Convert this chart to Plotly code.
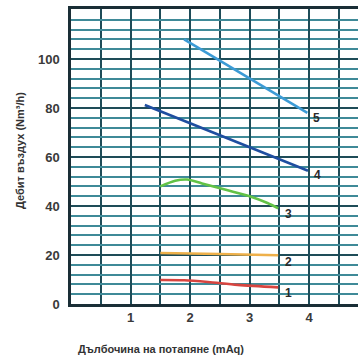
import plotly.graph_objects as go

# Data
series_names = ["1", "2", "3", "4", "5"]
x1 = [1.5, 1.9, 2.3, 2.8, 3.48]
y1 = [9.8, 9.7, 9.0, 7.8, 6.8]
x2 = [1.5, 2.5, 3.48]
y2 = [20.8, 20.4, 19.9]
x3 = [1.5, 1.75, 1.95, 2.2, 2.6, 3.0, 3.3, 3.48]
y3 = [48.0, 50.3, 50.8, 49.2, 46.6, 44.0, 41.2, 39.0]
x4 = [1.24, 3.98]
y4 = [81.2, 54.4]
x5 = [1.9, 3.97]
y5 = [108.0, 78.0]
x_ticks = [1, 2, 3, 4]
y_ticks = [0, 20, 40, 60, 80, 100]

colors = ["#d8443f", "#eeb04a", "#62c246", "#1f4ea0", "#3c9bd6"]
xs = [x1, x2, x3, x4, x5]
ys = [y1, y2, y3, y4, y5]
label_shift = [(10, -6), (10, -7), (10, -6), (10, -4), (9, -5)]

fig = go.Figure()
for name, x, y, c in zip(series_names, xs, ys, colors):
    fig.add_trace(go.Scatter(x=x, y=y, mode="lines", name=name,
                             line=dict(color=c, width=2.6, shape="spline", smoothing=0.8),
                             showlegend=False))

for name, x, y, (dx, dy) in zip(series_names, xs, ys, label_shift):
    fig.add_annotation(x=x[-1], y=y[-1], text="<b>" + name + "</b>", showarrow=False,
                       xshift=dx, yshift=dy, font=dict(size=12, color="#2a2a2a",
                                                        family="Liberation Sans"))

# axis titles as paper annotations
fig.add_annotation(xref="paper", yref="paper", x=(161 - 71) / 287, y=(304 - 349) / 295,
                   text="<b>Дълбочина на потапяне (mAq)</b>", showarrow=False,
                   font=dict(size=11, color="#333", family="Liberation Sans"),
                   xanchor="center", yanchor="middle")
fig.add_annotation(xref="paper", yref="paper", x=(20 - 71) / 287, y=(304 - 151) / 295,
                   text="<b>Дебит въздух (Nm³/h)</b>", showarrow=False, textangle=-90,
                   font=dict(size=11, color="#333", family="Liberation Sans"),
                   xanchor="center", yanchor="middle")

fig.update_layout(
    width=358, height=356,
    margin=dict(l=71, r=0, t=9, b=52, autoexpand=False),
    paper_bgcolor="white", plot_bgcolor="white",
    font=dict(family="Liberation Sans", color="#3a3a3a"),
)
fig.update_xaxes(
    range=[0, 4.82], tickvals=x_ticks, ticktext=["<b>%d</b>" % v for v in x_ticks],
    tickfont=dict(size=13, color="#3a3a3a"), automargin=False,
    showgrid=True, gridcolor="#1e4c58", gridwidth=2,
    minor=dict(dtick=0.5, tick0=0, showgrid=True, gridcolor="#1e4c58", gridwidth=2),
    showline=True, linecolor="#1a2e36", linewidth=2.5, mirror=True,
    zeroline=False, ticks="",
)
fig.update_yaxes(
    range=[0, 120.4], tickvals=y_ticks, ticktext=["<b>%d</b>" % v for v in y_ticks],
    tickfont=dict(size=13, color="#3a3a3a"), ticklabelstandoff=6, automargin=False,
    showgrid=True, gridcolor="#1e4c58", gridwidth=2,
    minor=dict(dtick=4, tick0=0, showgrid=True, gridcolor="#3f8a98", gridwidth=1.6),
    showline=True, linecolor="#1a2e36", linewidth=2.5, mirror=True,
    zeroline=False, ticks="",
)

fig.write_html("out.html", config={"displayModeBar": False},
               post_script="document.body.style.margin='0';")
